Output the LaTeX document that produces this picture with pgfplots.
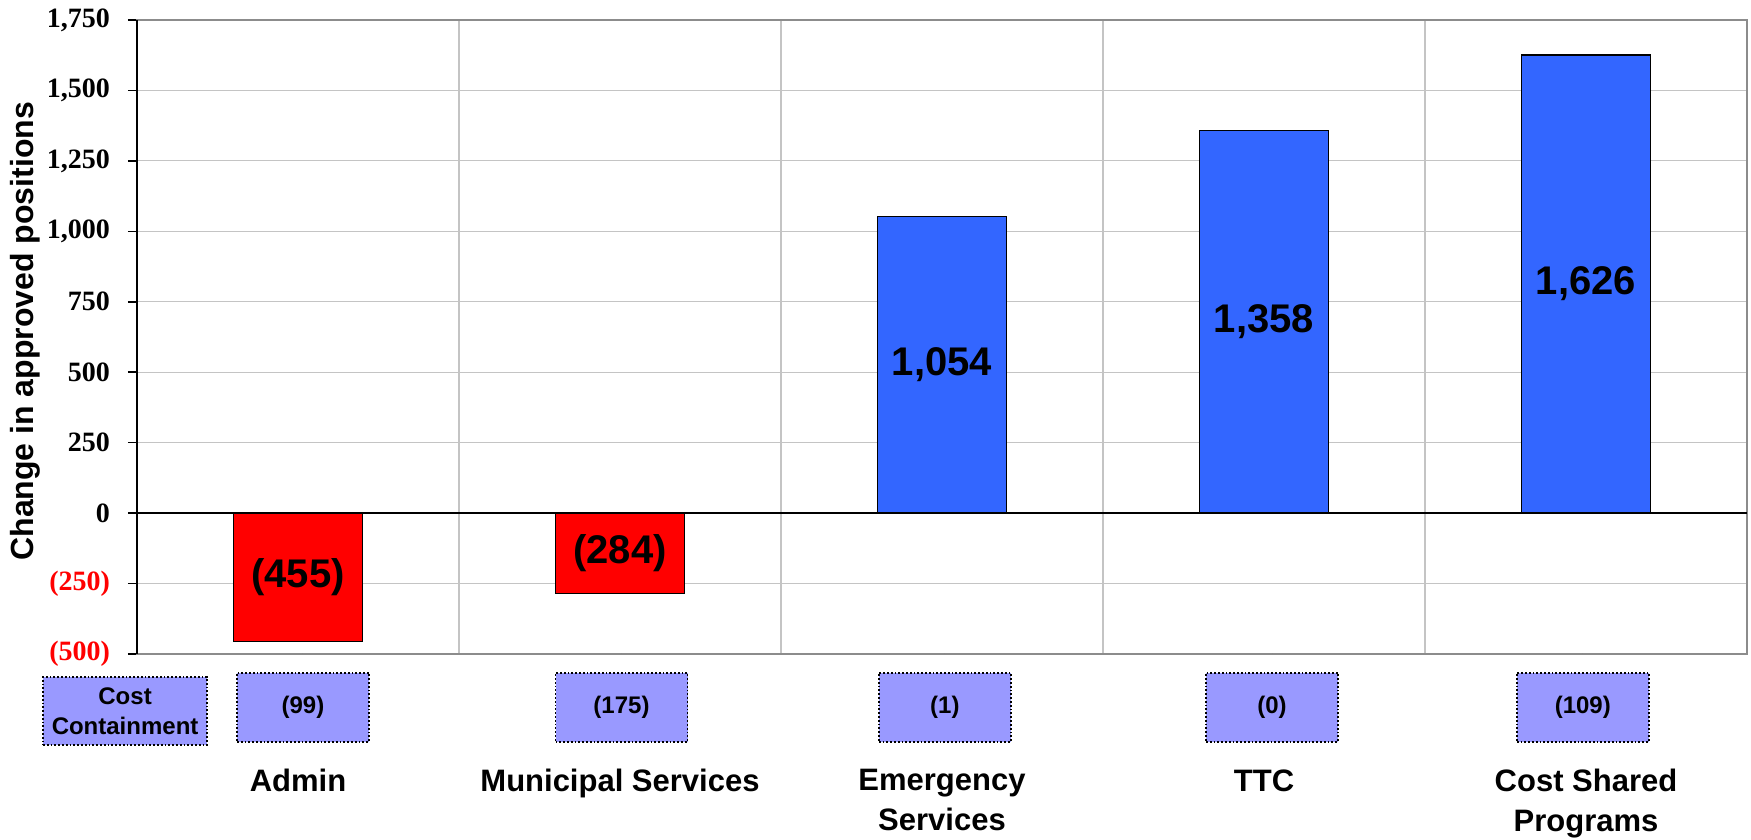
\documentclass[border=0pt]{standalone}
\usepackage{fontspec}
\setmainfont{Liberation Sans}
\newfontfamily\timesfont{Liberation Serif}
\usepackage{pgfplots}
\pgfplotsset{compat=1.18}
\usepackage{pgfplotstable}
\definecolor{barred}{HTML}{FF0000}
\definecolor{barblue}{HTML}{3366FF}
\definecolor{boxfill}{HTML}{9999FF}
\definecolor{gridgray}{HTML}{C4C4C4}

\pgfplotstableread{
x v label
0 -455 (455)
1 -284 (284)
}\negdata
\pgfplotstableread{
x v label
2 1054 1,054
3 1358 1,358
4 1626 1,626
}\posdata
\pgfplotstableread{
x y label
0.0155 -500 (99)
1.0047 -500 (175)
2.009 -500 (1)
3.025 -500 (0)
3.99 -500 (109)
}\ccdata

\begin{document}
\begin{tikzpicture}
\useasboundingbox (-68.5pt,-93pt) rectangle (807pt,327pt);
\begin{axis}[
  at={(0,0)}, anchor=south west,
  scale only axis, width=805pt, height=317pt,
  xmin=-0.5, xmax=4.5, ymin=-500, ymax=1750,
  clip=false,
  xtick={0,1,2,3,4},
  xticklabels={Admin, Municipal Services, {Emergency\\Services}, TTC, {Cost Shared\\Programs}},
  minor xtick={0.5,1.5,2.5,3.5},
  xminorgrids, ymajorgrids,
  ytick={-500,-250,0,250,500,750,1000,1250,1500,1750},
  yticklabels={{\color{red}(500)},{\color{red}(250)},0,250,500,750,{1,000},{1,250},{1,500},{1,750}},
  grid style={draw=gridgray, line width=0.6pt},
  minor grid style={draw=gridgray, line width=0.6pt},
  axis line style={draw=gray!90, line width=0.8pt},
  tick align=outside,
  ytick pos=left, xtick pos=bottom,
  xtick style={draw=none},
  minor x tick style={draw=none},
  ytick style={draw=black, line width=0.8pt},
  major tick length=4.5pt,
  yticklabel style={font=\timesfont\bfseries\fontsize{14}{14}\selectfont, xshift=-5.5pt},
  xticklabel style={font=\bfseries\fontsize{15.5}{20}\selectfont, align=center, anchor=north, inner sep=0pt, yshift=-53pt},
  ylabel={Change in approved positions},
  ylabel style={at={(axis description cs:-0.0696,0.509)}, anchor=center, font=\bfseries\fontsize{16}{16}\selectfont},
]
\addplot[ybar, bar width=64.5pt, fill=barred, draw=black, line width=0.6pt] table[x=x, y=v] {\negdata};
\addplot[ybar, bar width=64.5pt, fill=barblue, draw=black, line width=0.6pt] table[x=x, y=v] {\posdata};
\draw[black, line width=1pt] (axis cs:-0.5,-500) -- (axis cs:-0.5,1750);
\draw[black, line width=1pt] (axis cs:-0.5,0) -- (axis cs:4.5,0);
\addplot[only marks, mark=*, mark size=0pt, mark options={draw=none, fill=none},
  nodes near coords, point meta=explicit symbolic,
  nodes near coords style={anchor=center, black, font=\bfseries\fontsize{20}{20}\selectfont}]
  table[x=x, y expr=\thisrow{v}/2, meta=label] {\negdata};
\addplot[only marks, mark=*, mark size=0pt, mark options={draw=none, fill=none},
  nodes near coords, point meta=explicit symbolic,
  nodes near coords style={anchor=center, black, font=\bfseries\fontsize{20}{20}\selectfont}]
  table[x=x, y expr=\thisrow{v}/2, meta=label] {\posdata};
\addplot[only marks, mark=*, mark size=0pt, mark options={draw=none, fill=none},
  nodes near coords, point meta=explicit symbolic,
  nodes near coords style={anchor=north, yshift=-9pt, fill=boxfill, draw=black, densely dotted, line width=0.9pt, minimum width=66pt, minimum height=34.5pt, inner sep=0pt, font=\bfseries\fontsize{12}{15}\selectfont}]
  table[x=x, y=y, meta=label] {\ccdata};
\node[anchor=north, yshift=-11pt, fill=boxfill, draw=black, densely dotted, line width=0.9pt, minimum width=82pt, minimum height=34pt, inner sep=0pt, align=center, font=\bfseries\fontsize{12}{15}\selectfont] at (axis cs:-0.537,-500) {Cost\\Containment};
\end{axis}
\end{tikzpicture}
\end{document}
